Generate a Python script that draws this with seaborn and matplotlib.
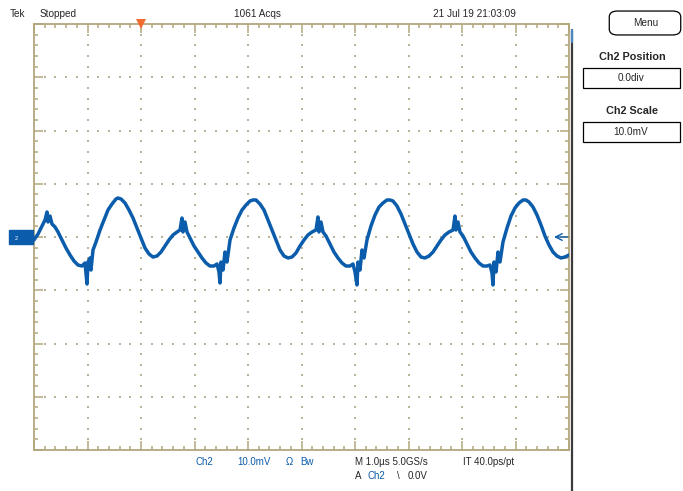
import numpy as np
import pandas as pd
import matplotlib
matplotlib.use("Agg")
import matplotlib.pyplot as plt
import seaborn as sns
from matplotlib.patches import Rectangle, FancyBboxPatch
from matplotlib.lines import Line2D

# ---- data ----
t_us = [0.000, 0.075, 0.150, 0.206, 0.243, 0.262, 0.299, 0.336, 0.393, 0.449,
        0.523, 0.598, 0.673, 0.748, 0.822, 0.897, 0.953, 0.991, 1.009, 1.047,
        1.065, 1.103, 1.159, 1.234, 1.308, 1.383, 1.458, 1.533, 1.570, 1.626,
        1.701, 1.776, 1.850, 1.925, 2.000, 2.075, 2.150, 2.224, 2.299, 2.374,
        2.449, 2.523, 2.598, 2.673, 2.729, 2.766, 2.785, 2.822, 2.860, 2.916,
        2.991, 3.065, 3.140, 3.215, 3.290, 3.364, 3.421, 3.458, 3.477, 3.495,
        3.533, 3.570, 3.607, 3.664, 3.738, 3.813, 3.888, 3.963, 4.037, 4.093,
        4.150, 4.224, 4.299, 4.374, 4.449, 4.523, 4.598, 4.673, 4.748, 4.822,
        4.897, 4.972, 5.047, 5.121, 5.196, 5.271, 5.308, 5.327, 5.364, 5.402,
        5.458, 5.533, 5.607, 5.682, 5.757, 5.832, 5.907, 5.963, 6.000, 6.037,
        6.056, 6.093, 6.131, 6.168, 6.224, 6.299, 6.374, 6.449, 6.523, 6.598,
        6.654, 6.710, 6.785, 6.860, 6.935, 7.009, 7.084, 7.159, 7.234, 7.308,
        7.383, 7.458, 7.533, 7.607, 7.682, 7.757, 7.832, 7.869, 7.888, 7.925,
        7.963, 8.019, 8.093, 8.168, 8.243, 8.318, 8.393, 8.467, 8.523, 8.561,
        8.579, 8.598, 8.636, 8.673, 8.710, 8.766, 8.841, 8.916, 8.991, 9.065,
        9.140, 9.196, 9.252, 9.327, 9.402, 9.477, 9.551, 9.626, 9.701, 9.776,
        9.850, 9.925, 10.000]
ch2_mV = [-0.56, 0.56, 2.07, 3.19, 4.70, 2.82, 3.94, 2.44, 1.88, 0.94,
          -0.56, -2.07, -3.38, -4.51, -5.26, -5.45, -4.88, -8.83, -4.70, -3.94,
          -6.20, -2.44, -0.94, 1.31, 3.19, 5.07, 6.20, 7.14, 7.32, 7.14,
          6.39, 5.07, 3.57, 1.69, -0.19, -2.07, -3.19, -3.76, -3.57, -2.82,
          -1.69, -0.56, 0.38, 0.94, 1.31, 3.57, 0.94, 2.82, 0.94, -0.19,
          -1.69, -2.82, -3.94, -4.88, -5.45, -5.45, -5.07, -6.57, -8.64, -4.70,
          -6.20, -2.82, -4.70, -0.56, 1.69, 3.57, 5.07, 6.01, 6.76, 6.95,
          6.95, 6.20, 5.07, 3.19, 1.31, -0.56, -2.44, -3.57, -3.94, -3.76,
          -3.00, -1.69, -0.56, 0.38, 0.94, 1.31, 3.76, 0.94, 2.82, 0.94,
          0.19, -1.31, -2.82, -3.94, -4.88, -5.45, -5.45, -5.07, -6.57, -9.01,
          -4.70, -6.20, -2.44, -3.94, -0.56, 2.07, 4.13, 5.63, 6.39, 6.95,
          6.95, 6.76, 5.82, 4.32, 2.44, 0.56, -1.31, -2.82, -3.76, -3.94,
          -3.57, -2.82, -1.69, -0.56, 0.38, 0.94, 1.31, 3.94, 1.31, 2.82,
          0.94, 0.19, -1.31, -2.82, -3.94, -4.88, -5.45, -5.45, -5.26, -6.76,
          -9.01, -4.70, -6.57, -2.82, -4.70, -0.94, 1.69, 3.94, 5.45, 6.39,
          6.95, 6.95, 6.57, 5.63, 4.13, 2.25, 0.19, -1.50, -2.82, -3.57,
          -3.94, -3.76, -3.38]

time_div_us = 1.0
volt_div_mV = 10.0
n_hdiv = 10
n_vdiv = 8
trigger_t_us = 2.0

header_texts = ["Tek", "Stopped", "1061 Acqs", "21 Jul 19 21:03:09"]
panel_texts = ["Ch2 Position", "0.0div", "Ch2 Scale", "10.0mV"]

# ---- style ----
sns.set_theme(style="white")
plt.rcParams['font.family'] = ['Liberation Sans', 'DejaVu Sans']

TRACE = '#0b5cab'
FRAME = '#b3a77c'
DOT = '#b9b39c'

W, H = 683, 491
fig = plt.figure(figsize=(W / 100, H / 100), dpi=100)
fig.patch.set_facecolor('white')

def fx(px):
    return px / W

def fy(py):
    return 1 - py / H

L, R, T, B = 34, 569, 24, 450
ax = fig.add_axes([fx(L), fy(B), (R - L) / W, (B - T) / H])
ax.set_facecolor('white')

xmax = n_hdiv * time_div_us
ymax = n_vdiv / 2 * volt_div_mV
ax.set_xlim(0, xmax)
ax.set_ylim(-ymax, ymax)

# dotted graticule
for i in range(1, n_hdiv):
    ys = np.arange(-ymax, ymax + 1e-9, volt_div_mV / 5)
    ax.scatter(np.full_like(ys, i * time_div_us), ys, s=1.5, marker='s',
               color=DOT, linewidths=0, zorder=1)
for j in range(1, n_vdiv):
    xs = np.arange(0, xmax + 1e-9, time_div_us / 5)
    ax.scatter(xs, np.full_like(xs, -ymax + j * volt_div_mV), s=1.5, marker='s',
               color=DOT, linewidths=0, zorder=1)

df = pd.DataFrame({"t": t_us, "v": ch2_mV})
sns.lineplot(data=df, x="t", y="v", ax=ax, color=TRACE, lw=2.5, sort=False,
             estimator=None, zorder=3, solid_joinstyle='round')

# frame and ticks
for s in ax.spines.values():
    s.set_color(FRAME)
    s.set_linewidth(1.3)
ax.set_xticks(np.arange(0, xmax + 1e-9, time_div_us))
ax.set_yticks(np.arange(-ymax, ymax + 1e-9, volt_div_mV))
ax.set_xticks(np.arange(0, xmax + 1e-9, time_div_us / 5), minor=True)
ax.set_yticks(np.arange(-ymax, ymax + 1e-9, volt_div_mV / 5), minor=True)
ax.tick_params(which='both', direction='in', top=True, bottom=True, left=True,
               right=True, labelbottom=False, labelleft=False, color=FRAME,
               width=1.1)
ax.tick_params(which='major', length=6.5)
ax.tick_params(which='minor', length=3)
ax.set_xlabel("")
ax.set_ylabel("")

# trigger position marker
ax.plot([trigger_t_us], [ymax], marker='v', color='#f26a2e', markersize=7,
        clip_on=False, zorder=5, markeredgewidth=0)

# channel ground marker
ax.add_patch(Rectangle((-0.46, -1.4), 0.44, 2.8, color=TRACE, clip_on=False, zorder=5))
ax.plot([-0.03], [0], marker='>', color=TRACE, markersize=5, clip_on=False, zorder=5)
ax.text(-0.33, -0.2, "2", color='white', fontsize=4, ha='center', va='center',
        zorder=6, clip_on=False)

# trigger level arrow
ax.annotate("", xy=(9.72, 0), xytext=(9.98, 0),
            arrowprops=dict(arrowstyle='->', color=TRACE, lw=1.0,
                            shrinkA=0, shrinkB=0), zorder=5)

# right separator line
fig.add_artist(Line2D([fx(571.5), fx(571.5)], [0, fy(30)], color='#3c3c3c', lw=1.6))
fig.add_artist(Line2D([fx(571.5), fx(571.5)], [fy(30), fy(42)], color='#4a86c0', lw=1.6))

# header
fs = 7.2
fig.text(fx(10), fy(14), header_texts[0], fontsize=fs, ha='left', va='center')
fig.text(fx(40), fy(14), header_texts[1], fontsize=fs, ha='left', va='center')
fig.text(fx(257), fy(14), header_texts[2], fontsize=fs, ha='center', va='center')
fig.text(fx(474), fy(14), header_texts[3], fontsize=fs, ha='center', va='center')

# Menu button
fig.add_artist(FancyBboxPatch((fx(612), fy(33)), fx(66), fy(13) - fy(33),
                              boxstyle="round,pad=0.004,rounding_size=0.012",
                              fc='white', ec='black', lw=0.9, transform=fig.transFigure))
fig.text(fx(646), fy(23), "Menu", fontsize=7.2, ha='center', va='center')

# right panel
fig.text(fx(632), fy(57), panel_texts[0], fontsize=7.8, fontweight='bold',
         ha='center', va='center')
fig.add_artist(Rectangle((fx(583), fy(88)), fx(97), fy(68) - fy(88), fc='white',
                         ec='black', lw=0.9, transform=fig.transFigure))
fig.text(fx(631), fy(78), panel_texts[1], fontsize=7.2, ha='center', va='center')
fig.text(fx(632), fy(111), panel_texts[2], fontsize=7.8, fontweight='bold',
         ha='center', va='center')
fig.add_artist(Rectangle((fx(583), fy(142)), fx(97), fy(122) - fy(142), fc='white',
                         ec='black', lw=0.9, transform=fig.transFigure))
fig.text(fx(631), fy(132), panel_texts[3], fontsize=7.2, ha='center', va='center')

# bottom status
fs2 = 7.0
fig.text(fx(195), fy(462), "Ch2", color=TRACE, fontsize=fs2, ha='left', va='center')
fig.text(fx(237), fy(462), "10.0mV", color=TRACE, fontsize=fs2, ha='left', va='center')
fig.text(fx(286), fy(462), "Ω", color=TRACE, fontsize=fs2, ha='left', va='center')
fig.text(fx(300), fy(462), "Bw", color=TRACE, fontsize=fs2, ha='left', va='center')
fig.text(fx(355), fy(462), "M 1.0µs 5.0GS/s", fontsize=fs2, ha='left', va='center')
fig.text(fx(463), fy(462), "IT 40.0ps/pt", fontsize=fs2, ha='left', va='center')
fig.text(fx(355), fy(476), "A", fontsize=fs2, ha='left', va='center')
fig.text(fx(368), fy(476), "Ch2", color=TRACE, fontsize=fs2, ha='left', va='center')
fig.text(fx(397), fy(476), "\\", fontsize=fs2, ha='left', va='center')
fig.text(fx(408), fy(476), "0.0V", fontsize=fs2, ha='left', va='center')

fig.savefig("out.png", dpi=100, facecolor='white')
